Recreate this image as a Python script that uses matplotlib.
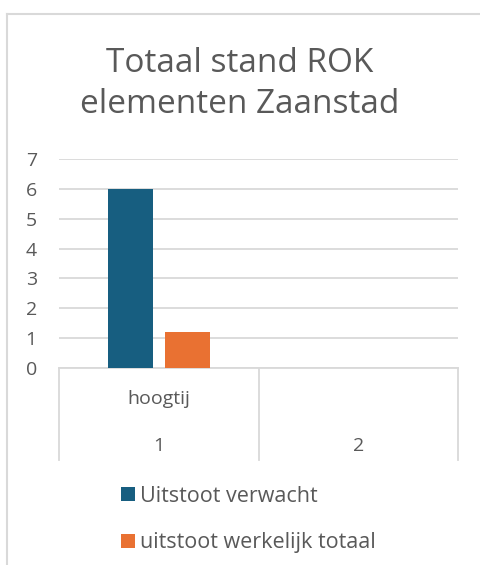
import numpy as np
import matplotlib.pyplot as plt
from matplotlib.patches import Patch
from matplotlib.lines import Line2D

# data
categories = ["1", "2"]
group_label = "hoogtij"
series_names = ["Uitstoot verwacht", "uitstoot werkelijk totaal"]
verwacht = [6, 0]
werkelijk = [1.2, 0]
y_ticks = [0, 1, 2, 3, 4, 5, 6, 7]

blue = "#175e80"
orange = "#e97132"
text_col = "#595959"
grid_col = "#d9d9d9"

plt.rcParams['font.family'] = ['Open Sans', 'DejaVu Sans']

fig = plt.figure(figsize=(4.8, 5.65), dpi=100)
ax = fig.add_axes([59/480, 1 - 368/565, 399/480, 209/565])

x = np.arange(1, len(categories) + 1)
w = 0.225
ax.bar(x - 0.1425, verwacht, width=w, color=blue, linewidth=0, zorder=3)
ax.bar(x + 0.1425, werkelijk, width=w, color=orange, linewidth=0, zorder=3)

ax.set_xlim(0.5, 2.5)
ax.set_ylim(0, 7)
ax.set_yticks(y_ticks)
ax.set_yticklabels([str(t) for t in y_ticks], fontsize=14, color=text_col)
ax.tick_params(axis='y', length=0, pad=16)
ax.set_xticks([])
ax.yaxis.grid(True, color=grid_col, linewidth=1.3, zorder=0)
for s in ax.spines.values():
    s.set_visible(False)

# category axis box
tr = ax.get_xaxis_transform()
ax.plot([0.5, 2.5], [0, 0], color=grid_col, lw=1.3, transform=tr, clip_on=False)
for xv in [0.5, 1.5, 2.5]:
    ax.plot([xv, xv], [0, -0.44], color=grid_col, lw=1.3, transform=tr, clip_on=False)
ax.text(1, -0.148, group_label, transform=tr, ha='center', va='center',
        fontsize=14, color=text_col)
for xv, c in zip(x, categories):
    ax.text(xv, -0.373, c, transform=tr, ha='center', va='center',
            fontsize=14, color=text_col)

fig.text(0.5, 1 - 84/565, "Totaal stand ROK\nelementen Zaanstad", ha='center',
         va='center', fontsize=24, color=text_col, linespacing=1.3)

# chart border
fig.add_artist(Line2D([7/480, 7/480], [0, 1 - 14/565], color=grid_col, lw=1.5))
fig.add_artist(Line2D([7/480, 1], [1 - 14/565, 1 - 14/565], color=grid_col, lw=1.5))

handles = [Patch(facecolor=blue, label=series_names[0]),
           Patch(facecolor=orange, label=series_names[1])]
fig.legend(handles=handles, loc='center left', bbox_to_anchor=(121/480, 1 - 519.5/565),
           frameon=False, fontsize=15.5, labelcolor=text_col, handlelength=0.65,
           handleheight=0.65, handletextpad=0.25, labelspacing=1.2, borderpad=0,
           borderaxespad=0)

fig.savefig("out.png", dpi=100)
